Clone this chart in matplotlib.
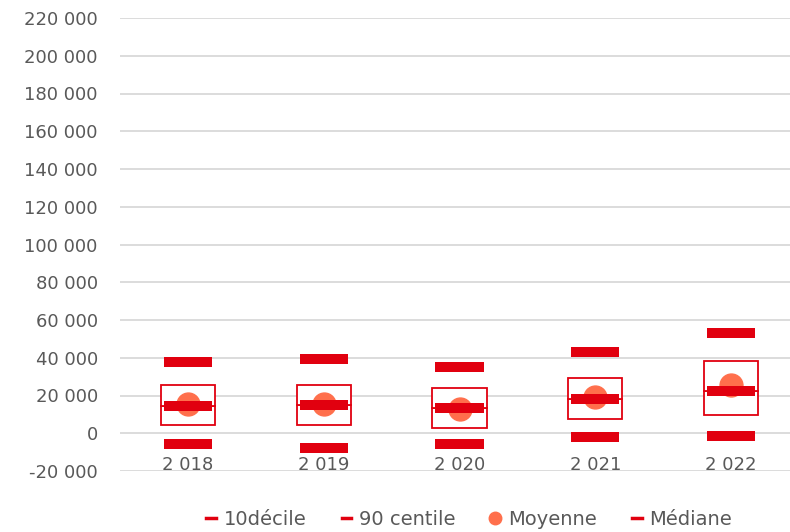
import matplotlib.pyplot as plt
from matplotlib.lines import Line2D
from matplotlib.ticker import FuncFormatter
import numpy as np

years = ["2 018", "2 019", "2 020", "2 021", "2 022"]
d10 = [-5800, -8000, -5800, -2100, -1600]
q1 = [4200, 4600, 2700, 7400, 9500]
median = [14300, 14900, 13300, 18000, 22300]
q3 = [25500, 25500, 23900, 29200, 38200]
c90 = [37700, 39300, 35000, 43000, 53000]
mean = [15300, 15400, 12900, 19100, 25500]

red = "#E1000F"
orange = "#FF6F4C"
grey = "#595959"

plt.rcParams['font.family'] = ['DejaVu Sans']

fig = plt.figure(figsize=(7.9, 5.32), dpi=100)
ax = fig.add_axes([120/790, 1 - 471/532, 679/790, (471 - 18)/532])

x = np.arange(len(years))
# box as two stacked outlined bars
ax.bar(x, np.array(median) - np.array(q1), bottom=q1, width=0.4,
       facecolor="white", edgecolor=red, linewidth=1.3, zorder=2)
ax.bar(x, np.array(q3) - np.array(median), bottom=median, width=0.4,
       facecolor="white", edgecolor=red, linewidth=1.3, zorder=2)
ax.plot(x, mean, "o", color=orange, markersize=16.5, zorder=3, linestyle="none")
w = 0.177
ax.hlines(d10, x - w, x + w, color=red, linewidth=7.2, zorder=4)
ax.hlines(c90, x - w, x + w, color=red, linewidth=7.2, zorder=4)
ax.hlines(median, x - w, x + w, color=red, linewidth=7.2, zorder=4)

ax.set_xlim(-0.5, len(years) - 0.5)
ax.set_ylim(-20000, 220000)
ax.set_yticks(np.arange(-20000, 220001, 20000))
ax.yaxis.set_major_formatter(FuncFormatter(lambda v, p: f"{int(v):,}".replace(",", " ")))
ax.set_xticks(x)
ax.set_xticklabels(years)
ax.grid(axis="y", color="#d9d9d9", linewidth=1.3, zorder=0)
ax.set_axisbelow(True)
for s in ax.spines.values():
    s.set_visible(False)
ax.tick_params(axis="both", length=0, labelsize=13, labelcolor=grey)
ax.tick_params(axis="x", pad=-11)
ax.tick_params(axis="y", pad=16)

handles = [
    Line2D([], [], color=red, lw=2.5),
    Line2D([], [], color=red, lw=2.5),
    Line2D([], [], marker="o", color=orange, markersize=9, linestyle="none"),
    Line2D([], [], color=red, lw=2.5),
]
labels = ["10décile", "90 centile", "Moyenne", "Médiane"]
fig.legend(handles, labels, loc="center", bbox_to_anchor=(0.594, 0.024), ncol=4,
           frameon=False, fontsize=14, labelcolor=grey, handlelength=0.5,
           handletextpad=0.4, columnspacing=1.8)

fig.savefig("out.png", dpi=100)
